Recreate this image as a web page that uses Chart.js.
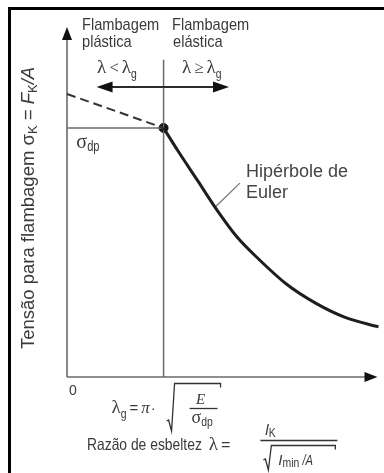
<!DOCTYPE html>
<html lang="pt">
<head>
<meta charset="utf-8">
<title>Hipérbole de Euler</title>
<script src="https://cdn.jsdelivr.net/npm/chart.js@4.4.1/dist/chart.umd.min.js"></script>
<style>
  html, body { margin: 0; padding: 0; background: #fff; }
  #wrap { position: relative; width: 384px; height: 473px; }
</style>
</head>
<body>
<div id="wrap"><canvas id="buckling"></canvas></div>
<script>
// Axis ranges (slenderness ratio on x, buckling stress on y, arbitrary units)
const lambdaMax = 100;
const sigmaMax = 110;

// Limit slenderness and proportional limit stress
const lambdaG = 31;
const sigmaDp = 78.5;

// Euler hyperbola in the elastic range (lambda >= lambda_g)
const eulerLambda = [31, 35.6, 42, 47.6, 54.6, 61.8, 70.3, 79.8, 89.3, 100];
const eulerSigma = [78.5, 71.3, 61.8, 53.4, 44.1, 36.9, 29.4, 23.3, 18.8, 15.8];

// Dashed extension into the plastic range
const plasticLambda = [0, 31];
const plasticSigma = [89.2, 78.5];

// Leader from the curve to its label
const leaderLambda = [47.6, 55.5];
const leaderSigma = [53.6, 61.1];

// Divider top and the two-way range arrow
const dividerTop = 100;
const rangeSigma = 91.4;
const rangeFrom = 9.5;
const rangeTo = 52;

const SANS = '"Liberation Sans", Arial, sans-serif';
const SERIF = '"Liberation Serif", "DejaVu Serif", serif';
const INK = "#2b2b2b";
const GREY = "#6a6a6a";
const NARROW = 0.8; // horizontal squeeze for the condensed lettering

function pts(xs, ys) {
  return xs.map((x, i) => ({ x: x, y: ys[i] }));
}

// draw a run of text pieces (font changes, subscripts) left to right;
// sx squeezes a piece horizontally
function drawRun(ctx, parts, x, y) {
  parts.forEach(function (p) {
    const sx = p.sx || 1;
    ctx.font = p.font;
    ctx.save();
    ctx.translate(x, y + (p.dy || 0));
    ctx.scale(sx, 1);
    ctx.fillText(p.t, 0, 0);
    ctx.restore();
    x += ctx.measureText(p.t).width * sx + (p.gap || 0);
  });
  return x;
}

function runWidth(ctx, parts) {
  let w = 0;
  parts.forEach(function (p) {
    ctx.font = p.font;
    w += ctx.measureText(p.t).width * (p.sx || 1) + (p.gap || 0);
  });
  return w;
}

function arrowHead(ctx, x, y, dx, dy, len, half) {
  // (dx, dy) is the unit direction the arrow points to
  const bx = x - dx * len, by = y - dy * len;
  ctx.beginPath();
  ctx.moveTo(x, y);
  ctx.lineTo(bx - dy * half, by + dx * half);
  ctx.lineTo(bx + dy * half, by - dx * half);
  ctx.closePath();
  ctx.fill();
}

function radical(ctx, x0, yTop, yBot, xEnd) {
  ctx.beginPath();
  ctx.moveTo(x0, yBot - 10);
  ctx.lineTo(x0 + 2, yBot - 11);
  ctx.lineTo(x0 + 5, yBot);
  ctx.lineTo(x0 + 8, yTop);
  ctx.lineTo(xEnd, yTop);
  ctx.lineTo(xEnd, yTop + 4);
  ctx.stroke();
}

// Frame, axis arrows, range arrow and all the lettering
const decorations = {
  id: "decorations",
  afterDatasetsDraw(chart) {
    const ctx = chart.ctx;
    const xs = chart.scales.x, ys = chart.scales.y;
    const x0 = xs.getPixelForValue(0), y0 = ys.getPixelForValue(0);
    ctx.save();

    // frame
    ctx.strokeStyle = "#000";
    ctx.lineWidth = 3;
    ctx.beginPath();
    ctx.moveTo(9.5, chart.height);
    ctx.lineTo(9.5, 8.5);
    ctx.lineTo(chart.width, 8.5);
    ctx.stroke();

    // axis arrow heads
    ctx.fillStyle = "#111";
    arrowHead(ctx, x0, ys.getPixelForValue(sigmaMax) - 1, 0, -1, 13, 5);
    arrowHead(ctx, xs.getPixelForValue(lambdaMax) - 1, y0, 1, 0, 13, 5);

    // two-way range arrow
    const ry = ys.getPixelForValue(rangeSigma);
    const ra = xs.getPixelForValue(rangeFrom), rb = xs.getPixelForValue(rangeTo);
    ctx.strokeStyle = INK;
    ctx.lineWidth = 2;
    ctx.beginPath();
    ctx.moveTo(ra + 8, ry);
    ctx.lineTo(rb - 8, ry);
    ctx.stroke();
    arrowHead(ctx, ra, ry, -1, 0, 16, 5.5);
    arrowHead(ctx, rb, ry, 1, 0, 16, 5.5);

    ctx.fillStyle = "#3a3a3a";
    ctx.textBaseline = "alphabetic";
    ctx.textAlign = "left";

    // range headings
    const head = "17px " + SANS;
    drawRun(ctx, [{ t: "Flambagem", font: head, sx: 0.86 }], 82, 30);
    drawRun(ctx, [{ t: "plástica", font: head, sx: 0.86 }], 82, 47);
    drawRun(ctx, [{ t: "Flambagem", font: head, sx: 0.86 }], 172, 30);
    drawRun(ctx, [{ t: "elástica", font: head, sx: 0.86 }], 173, 47);

    const lam = "19px " + SERIF;
    const sub = "13px " + SANS;
    drawRun(ctx, [
      { t: "λ", font: lam, gap: 3 },
      { t: "<", font: "17px " + SERIF, gap: 3 },
      { t: "λ", font: lam },
      { t: "g", font: sub, dy: 5, sx: NARROW }
    ], 97, 73);
    drawRun(ctx, [
      { t: "λ", font: lam, gap: 3 },
      { t: "≥", font: "17px " + SERIF, gap: 3 },
      { t: "λ", font: lam },
      { t: "g", font: sub, dy: 5, sx: NARROW }
    ], 182, 73);

    // sigma_dp next to the reference line
    drawRun(ctx, [
      { t: "σ", font: "20px " + SERIF },
      { t: "dp", font: "14px " + SANS, dy: 3, sx: NARROW }
    ], xs.getPixelForValue(3), ys.getPixelForValue(sigmaDp) + 20);

    // curve label
    ctx.fillStyle = "#444";
    ctx.font = "18px " + SANS;
    const lx = xs.getPixelForValue(leaderLambda[1]) + 6;
    ctx.fillText("Hipérbole de", lx, 177);
    ctx.fillText("Euler", lx, 198);

    // origin
    ctx.fillStyle = "#3a3a3a";
    ctx.font = "14px " + SANS;
    ctx.textAlign = "center";
    ctx.fillText("0", x0 + 6, 395);
    ctx.textAlign = "left";

    // y axis title, rotated
    const yTitle = [
      { t: "Tensão para flambagem σ", font: "18.5px " + SANS },
      { t: "K", font: "13px " + SANS, dy: 3 },
      { t: " = ", font: "18.5px " + SANS },
      { t: "F", font: "italic 18.5px " + SANS },
      { t: "K", font: "13px " + SANS, dy: 3 },
      { t: "/A", font: "italic 18.5px " + SANS }
    ];
    ctx.save();
    ctx.translate(34, 208);
    ctx.rotate(-Math.PI / 2);
    drawRun(ctx, yTitle, -runWidth(ctx, yTitle) / 2, 0);
    ctx.restore();

    // lambda_g = pi * sqrt(E / sigma_dp)
    const gx = xs.getPixelForValue(lambdaG);
    drawRun(ctx, [
      { t: "λ", font: lam },
      { t: "g", font: sub, dy: 5, gap: 3, sx: NARROW },
      { t: "=", font: "15px " + SANS, gap: 3 },
      { t: "π", font: "italic 17px " + SERIF, gap: 1 },
      { t: "·", font: "15px " + SANS }
    ], gx - 52, 413);
    ctx.strokeStyle = "#333";
    ctx.lineWidth = 1.3;
    radical(ctx, gx + 3, 383.5, 431, gx + 57);
    ctx.textAlign = "center";
    ctx.font = "italic 15px " + SERIF;
    ctx.fillText("E", gx + 37, 404);
    ctx.beginPath();
    ctx.moveTo(gx + 26, 408.5);
    ctx.lineTo(gx + 54, 408.5);
    ctx.stroke();
    ctx.textAlign = "left";
    drawRun(ctx, [
      { t: "σ", font: "18px " + SERIF },
      { t: "dp", font: "13px " + SANS, dy: 3, sx: NARROW }
    ], gx + 28, 423);

    // Razao de esbeltez lambda = l_K / sqrt(I_min / A)
    const fx = drawRun(ctx, [
      { t: "Razão de esbeltez", font: "16.5px " + SANS, gap: 7, sx: 0.84 },
      { t: "λ", font: lam, gap: 3 },
      { t: "=", font: "16px " + SANS }
    ], 87, 450) + 30;
    drawRun(ctx, [
      { t: "l", font: "italic 15px " + SANS },
      { t: "K", font: "13px " + SANS, dy: 2, sx: NARROW }
    ], fx + 5, 435);
    ctx.beginPath();
    ctx.moveTo(fx, 440.5);
    ctx.lineTo(fx + 77, 440.5);
    ctx.stroke();
    radical(ctx, fx + 3, 445.5, 470, fx + 75);
    drawRun(ctx, [
      { t: "I", font: "italic 15px " + SANS },
      { t: "min", font: "13px " + SANS, dy: 2, sx: NARROW },
      { t: " /A", font: "italic 14px " + SANS, sx: NARROW }
    ], fx + 18, 465);

    ctx.restore();
  }
};

document.addEventListener("DOMContentLoaded", function () {
  const canvas = document.getElementById("buckling");

  new Chart(canvas, {
    type: "line",
    data: {
      datasets: [
        {
          // Euler hyperbola
          data: pts(eulerLambda, eulerSigma),
          borderColor: "#1e1e1e",
          borderWidth: 3,
          cubicInterpolationMode: "monotone",
          pointRadius: 0
        },
        {
          // plastic range, dashed
          data: pts(plasticLambda, plasticSigma),
          borderColor: "#333",
          borderWidth: 2,
          borderDash: [9, 5],
          pointRadius: 0
        },
        {
          // sigma_dp reference line
          data: pts([0, lambdaG], [sigmaDp, sigmaDp]),
          borderColor: GREY,
          borderWidth: 1.5,
          pointRadius: 0
        },
        {
          // lambda_g divider
          data: pts([lambdaG, lambdaG], [0, dividerTop]),
          borderColor: GREY,
          borderWidth: 1.5,
          pointRadius: 0
        },
        {
          // leader to the curve label
          data: pts(leaderLambda, leaderSigma),
          borderColor: "#777",
          borderWidth: 1.3,
          pointRadius: 0
        },
        {
          // y axis
          data: pts([0, 0], [0, sigmaMax - 3]),
          borderColor: GREY,
          borderWidth: 1.6,
          pointRadius: 0
        },
        {
          // x axis
          data: pts([0, lambdaMax - 3], [0, 0]),
          borderColor: GREY,
          borderWidth: 1.6,
          pointRadius: 0
        },
        {
          // transition point
          data: pts([lambdaG], [sigmaDp]),
          showLine: false,
          pointRadius: 4.5,
          pointBackgroundColor: "#111",
          pointBorderColor: "#111"
        }
      ]
    },
    options: {
      responsive: true,
      maintainAspectRatio: false,
      animation: false,
      devicePixelRatio: 1,
      clip: false,
      layout: { padding: { left: 67, right: 0, top: 28, bottom: 96 } },
      scales: {
        x: { type: "linear", min: 0, max: lambdaMax, display: false },
        y: { type: "linear", min: 0, max: sigmaMax, display: false }
      },
      plugins: {
        legend: { display: false },
        tooltip: { enabled: false }
      },
      events: []
    },
    plugins: [decorations]
  });
});
</script>
</body>
</html>
